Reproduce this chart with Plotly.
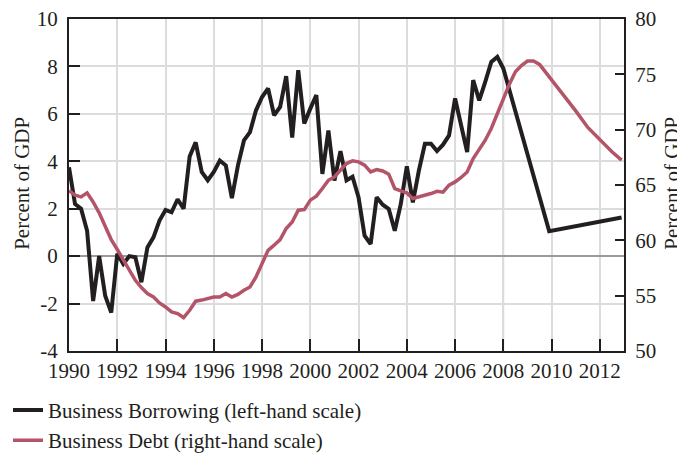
import plotly.graph_objects as go

# ---------------- data ----------------
borrow_quarters = [1990 + 0.25 * i for i in range(73)]  # 1990Q1 .. 2008Q1
borrow_hist = [
    3.75, 2.2, 2.0, 1.07,
    -1.89, 0.0, -1.67, -2.38,
    0.1, -0.33, 0.0, -0.05,
    -1.1, 0.37, 0.79, 1.5,
    1.95, 1.85, 2.4, 2.0,
    4.2, 4.8, 3.55, 3.2,
    3.55, 4.03, 3.82, 2.45,
    3.82, 4.88, 5.23, 6.15,
    6.71, 7.07, 5.94, 6.29,
    7.59, 5.0, 7.84, 5.59,
    6.22, 6.79, 3.47, 5.3,
    3.19, 4.43, 3.2, 3.35,
    2.48, 0.86, 0.51, 2.48,
    2.17, 1.99, 1.07, 2.2,
    3.79, 2.27, 3.61, 4.74,
    4.74, 4.43, 4.7, 5.09,
    6.65, 5.52, 4.39, 7.42,
    6.57, 7.35, 8.19, 8.4,
    7.91,
]
borrow_proj_x = [2009.9, 2012.9]
borrow_proj = [1.05, 1.63]

debt_quarters = [1990 + 0.25 * i for i in range(80)]  # 1990Q1 .. 2009Q4
debt_hist = [
    64.49, 64.08, 63.92, 64.29,
    63.47, 62.48, 61.27, 60.07,
    59.17, 58.2, 57.23, 56.39,
    55.73, 55.19, 54.88, 54.34,
    53.98, 53.53, 53.38, 53.02,
    53.68, 54.5, 54.6, 54.74,
    54.88, 54.88, 55.2, 54.88,
    55.12, 55.49, 55.79, 56.69,
    57.9, 59.1, 59.56, 60.07,
    61.07, 61.66, 62.72, 62.78,
    63.63, 63.99, 64.68, 65.43,
    65.73, 66.34, 66.94, 67.18,
    67.09, 66.79, 66.18, 66.4,
    66.27, 65.98, 64.68, 64.47,
    64.29, 63.78, 63.92, 64.12,
    64.23, 64.43, 64.35, 64.98,
    65.28, 65.68, 66.18, 67.39,
    68.21, 69.05, 70.11, 71.46,
    72.82, 74.11, 75.23, 75.8,
    76.2, 76.2, 75.9, 75.2,
]
debt_proj_x = [2010.0, 2010.5, 2011.0, 2011.5, 2012.0, 2012.5, 2012.9]
debt_proj = [74.6, 73.2, 71.7, 70.2, 69.05, 68.0, 67.25]

x_ticks = list(range(1990, 2013, 2))
left_ticks = list(range(-4, 11, 2))
left_labels = [str(t) for t in left_ticks]
right_ticks = list(range(50, 81, 5))
axis_title = "Percent of GDP"

BLACK = "#231f20"
PINK = "#b35468"
GRID = "#dcdcdc"
REF = "#9a9a9a"
FONT = "Liberation Serif"
FS = 21

fig = go.Figure()
fig.add_trace(go.Scatter(
    x=borrow_quarters + borrow_proj_x, y=borrow_hist + borrow_proj,
    mode="lines", name="Business Borrowing (left-hand scale)",
    line=dict(color=BLACK, width=4), yaxis="y"))
fig.add_trace(go.Scatter(
    x=debt_quarters + debt_proj_x, y=debt_hist + debt_proj,
    mode="lines", name="Business Debt (right-hand scale)",
    line=dict(color=PINK, width=3.5), yaxis="y2"))

fig.add_shape(type="line", xref="x", yref="paper", x0=2008, x1=2008, y0=0, y1=1,
              line=dict(color=REF, width=1.5), layer="below")

# axis titles (as annotations, placed beside the axes)
fig.add_annotation(text=axis_title, xref="paper", yref="paper", x=-0.085, y=0.506,
                   xanchor="center", yanchor="middle", textangle=-90, showarrow=False,
                   font=dict(family=FONT, size=FS, color=BLACK))
fig.add_annotation(text=axis_title, xref="paper", yref="paper", x=1.086, y=0.506,
                   xanchor="center", yanchor="middle", textangle=-90, showarrow=False,
                   font=dict(family=FONT, size=FS, color=BLACK))

fig.update_layout(
    width=677, height=445,
    margin=dict(l=61, r=61, t=11, b=102, autoexpand=False),
    paper_bgcolor="white", plot_bgcolor="white",
    font=dict(family=FONT, size=FS, color=BLACK),
    showlegend=True,
    legend=dict(xref="container", yref="container", x=0.0, y=0.142,
                xanchor="left", yanchor="top", orientation="v",
                font=dict(family=FONT, size=FS, color=BLACK),
                bgcolor="rgba(0,0,0,0)", itemwidth=30, tracegroupgap=0),
    xaxis=dict(range=[1990, 2013], tickvals=x_ticks, ticktext=[str(t) for t in x_ticks],
               ticks="inside", ticklen=12, tickwidth=2, tickcolor=BLACK, tickangle=0,
               showline=True, linecolor=BLACK, linewidth=2, mirror=True,
               showgrid=True, gridcolor=GRID, gridwidth=1.5, zeroline=False,
               automargin=False, ticklabeloverflow="allow",
               tickfont=dict(family=FONT, size=FS, color=BLACK)),
    yaxis=dict(range=[-4, 10], tickvals=left_ticks, ticktext=left_labels,
               ticks="inside", ticklen=11, tickwidth=2, tickcolor=BLACK,
               showline=True, linecolor=BLACK, linewidth=2,
               showgrid=True, gridcolor=GRID, gridwidth=1.5,
               zeroline=True, zerolinecolor=REF, zerolinewidth=1.5,
               automargin=False, ticklabelstandoff=5, ticklabeloverflow="allow",
               tickfont=dict(family=FONT, size=FS, color=BLACK)),
    yaxis2=dict(range=[50, 80], tickvals=right_ticks, overlaying="y", side="right",
                ticks="inside", ticklen=9, tickwidth=2, tickcolor=BLACK,
                showline=True, linecolor=BLACK, linewidth=2,
                showgrid=False, zeroline=False, automargin=False, ticklabelstandoff=5,
                ticklabeloverflow="allow",
                tickfont=dict(family=FONT, size=FS, color=BLACK)),
)

fig.write_html("out.html")
